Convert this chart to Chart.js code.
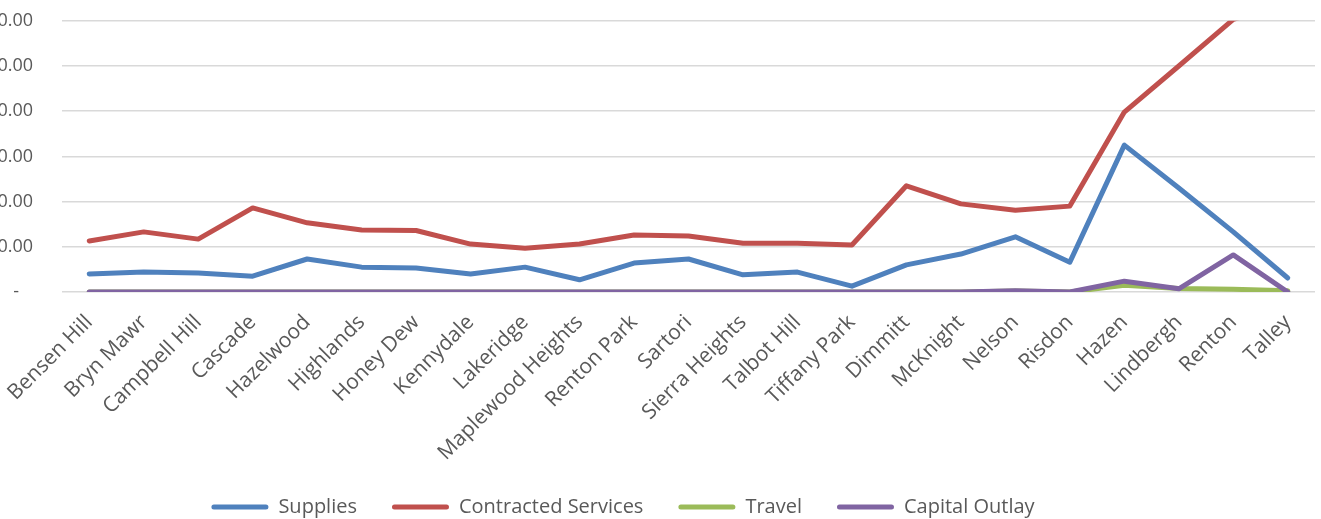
<!DOCTYPE html>
<html>
<head>
<meta charset="utf-8">
<script src="https://cdn.jsdelivr.net/npm/chart.js@4/dist/chart.umd.min.js"></script>
<style>
  html, body { margin: 0; padding: 0; background: #fff; overflow: hidden; }
  #wrap { width: 1390px; height: 538px; margin-left: -69px; margin-top: -19px; }
</style>
</head>
<body>
<div id="wrap"><canvas id="budgetChart" width="1390" height="538"></canvas></div>
<script>
const schools = ['Bensen Hill', 'Bryn Mawr', 'Campbell Hill', 'Cascade', 'Hazelwood', 'Highlands', 'Honey Dew', 'Kennydale', 'Lakeridge', 'Maplewood Heights', 'Renton Park', 'Sartori', 'Sierra Heights', 'Talbot Hill', 'Tiffany Park', 'Dimmitt', 'McKnight', 'Nelson', 'Risdon', 'Hazen', 'Lindbergh', 'Renton', 'Talley'];

const supplies = [4000, 4400, 4200, 3500, 7300, 5500, 5300, 4000, 5500, 2700, 6400, 7300, 3800, 4400, 1300, 6000, 8400, 12200, 6600, 32500, 23000, 13300, 3100];
const contracted = [11300, 13300, 11700, 18600, 15300, 13700, 13600, 10600, 9700, 10600, 12600, 12400, 10800, 10800, 10400, 23500, 19500, 18100, 19000, 39800, 50000, 60300, 64000];
const travel = [0, 0, 0, 0, 0, 0, 0, 0, 0, 0, 0, 0, 0, 0, 0, 0, 0, 200, 0, 1500, 800, 600, 300];
const capitalOutlay = [0, 0, 0, 0, 0, 0, 0, 0, 0, 0, 0, 0, 0, 0, 0, 0, 0, 300, 0, 2400, 700, 8200, 0];

const yMax = 60000;
const yStep = 10000;

const tickColor = '#595959';

function line(label, data, color, order) {
    return {
        label: label,
        data: data,
        borderColor: color,
        backgroundColor: color,
        borderWidth: 5,
        pointRadius: 0,
        tension: 0,
        borderJoinStyle: 'round',
        borderCapStyle: 'round',
        order: order
    };
}

const ctx = document.getElementById('budgetChart').getContext('2d');

new Chart(ctx, {
    type: 'line',
    data: {
        labels: schools,
        datasets: [
            line('Supplies', supplies, '#4F81BD', 3),
            line('Contracted Services', contracted, '#C0504D', 2),
            line('Travel', travel, '#9BBB59', 1),
            line('Capital Outlay', capitalOutlay, '#8064A2', 0)
        ]
    },
    options: {
        responsive: false,
        animation: false,
        layout: { padding: { top: 0, right: 6, left: 0, bottom: -8 } },
        plugins: {
            tooltip: { enabled: false },
            legend: {
                position: 'bottom',
                labels: {
                    sort: (a, b) => a.datasetIndex - b.datasetIndex,
                    boxWidth: 57,
                    boxHeight: 5,
                    useBorderRadius: true,
                    borderRadius: 2.5,
                    padding: 35,
                    color: tickColor,
                    font: { family: '"Open Sans", sans-serif', size: 20 },
                    generateLabels: chart => Chart.defaults.plugins.legend.labels.generateLabels(chart)
                        .map(item => Object.assign(item, { lineWidth: 0 }))
                }
            }
        },
        scales: {
            x: {
                offset: true,
                grid: { display: false },
                border: { display: false },
                ticks: {
                    minRotation: 45,
                    maxRotation: 45,
                    padding: 10,
                    color: tickColor,
                    font: { family: '"Open Sans", sans-serif', size: 21 }
                },
                afterFit: s => { s.height = 170; }
            },
            y: {
                min: 0,
                max: yMax,
                ticks: {
                    stepSize: yStep,
                    padding: 29,
                    color: tickColor,
                    font: { family: '"Open Sans", sans-serif', size: 18 },
                    callback: v => v === 0 ? '-   ' : v.toLocaleString('en-US', { minimumFractionDigits: 2, maximumFractionDigits: 2 })
                },
                grid: { color: '#D9D9D9', lineWidth: 1.5, drawTicks: false },
                border: { display: false },
                afterFit: s => { s.width = 131; }
            }
        }
    }
});
</script>
</body>
</html>
